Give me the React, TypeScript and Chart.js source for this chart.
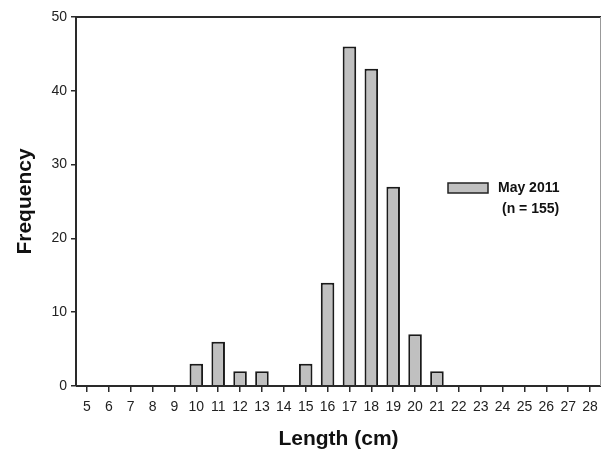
import React, { useEffect, useRef } from "react";
import { Chart, registerables } from "chart.js";

Chart.register(...registerables);

const lengths: string[] = ["5","6","7","8","9","10","11","12","13","14","15","16","17","18","19","20","21","22","23","24","25","26","27","28"];
const frequency: number[] = [0,0,0,0,0,3,6,2,2,0,3,14,46,43,27,7,2,0,0,0,0,0,0,0];
const seriesLabel = "May 2011";
const seriesNote = "(n = 155)";
const yTicks: number[] = [0, 10, 20, 30, 40, 50];

const FONT = "Arial, 'Liberation Sans', sans-serif";
const AXIS = "#2a2a2a";

const frameAndLegend = {
  id: "frameAndLegend",
  afterDatasetsDraw(chart: any) {
    const { ctx, chartArea } = chart;
    const { left, right, top, bottom } = chartArea;
    ctx.save();
    ctx.strokeStyle = AXIS;
    ctx.lineWidth = 2;
    ctx.beginPath();
    ctx.moveTo(left, bottom);
    ctx.lineTo(left, top);
    ctx.lineTo(right, top);
    ctx.stroke();
    ctx.beginPath();
    ctx.moveTo(left, bottom);
    ctx.lineTo(right, bottom);
    ctx.stroke();
    ctx.strokeStyle = "#999";
    ctx.lineWidth = 1;
    ctx.beginPath();
    ctx.moveTo(right - 0.5, top);
    ctx.lineTo(right - 0.5, bottom);
    ctx.stroke();

    // legend
    const bx = left + 372;
    const by = top + 166;
    ctx.fillStyle = "#c0c0c0";
    ctx.fillRect(bx, by, 40, 10);
    ctx.strokeStyle = "#222";
    ctx.lineWidth = 1.5;
    ctx.strokeRect(bx, by, 40, 10);
    ctx.fillStyle = "#111";
    ctx.font = `bold 14px ${FONT}`;
    ctx.textBaseline = "middle";
    ctx.textAlign = "left";
    ctx.fillText(seriesLabel, bx + 50, by + 5);
    ctx.fillText(seriesNote, bx + 54, by + 26);
    ctx.restore();
  },
};

export default function App() {
  const ref = useRef<HTMLCanvasElement | null>(null);
  useEffect(() => {
    if (!ref.current) return;
    const chart = new Chart(ref.current, {
      type: "bar",
      data: {
        labels: lengths,
        datasets: [
          {
            label: seriesLabel,
            data: frequency,
            backgroundColor: "#c0c0c0",
            borderColor: "#1a1a1a",
            borderWidth: 2,
            barPercentage: 0.62,
            categoryPercentage: 1,
          },
        ],
      },
      options: {
        animation: false,
        responsive: false,
        maintainAspectRatio: false,
        layout: { padding: { left: 0, top: 17, right: 1, bottom: 0 } },
        plugins: { legend: { display: false }, tooltip: { enabled: false } },
        scales: {
          x: {
            type: "category",
            offset: true,
            grid: {
              display: true,
              drawOnChartArea: false,
              offset: false,
              tickLength: 6,
              color: AXIS,
              lineWidth: 1.5,
            },
            border: { display: false },
            ticks: {
              color: "#222",
              font: { family: FONT, size: 14 },
              padding: 7,
              maxRotation: 0,
              autoSkip: false,
            },
            title: {
              display: true,
              text: "Length (cm)",
              color: "#111",
              font: { family: FONT, size: 21, weight: "bold" },
              padding: { top: 6, bottom: 6 },
            },
            afterFit(scale: any) {
              scale.height = 72;
              scale.paddingRight = 0;
              scale.paddingLeft = 0;
            },
          },
          y: {
            min: 0,
            max: 50,
            afterBuildTicks(scale: any) {
              scale.ticks = yTicks.map((v) => ({ value: v }));
            },
            grid: {
              display: true,
              drawOnChartArea: false,
              tickLength: 5,
              color: AXIS,
              lineWidth: 1.5,
            },
            border: { display: false },
            ticks: {
              color: "#222",
              font: { family: FONT, size: 14 },
              padding: 4,
            },
            title: {
              display: true,
              text: "Frequency",
              color: "#111",
              font: { family: FONT, size: 21, weight: "bold" },
              padding: { top: 13, bottom: 13 },
            },
            afterFit(scale: any) {
              scale.width = 76;
            },
          },
        },
      },
      plugins: [frameAndLegend],
    });
    return () => chart.destroy();
  }, []);
  return (
    <div style={{ position: "absolute", left: 0, top: 0, width: 602, height: 458, background: "#fff" }}>
      <canvas ref={ref} width={602} height={458} style={{ width: 602, height: 458 }} />
    </div>
  );
}
